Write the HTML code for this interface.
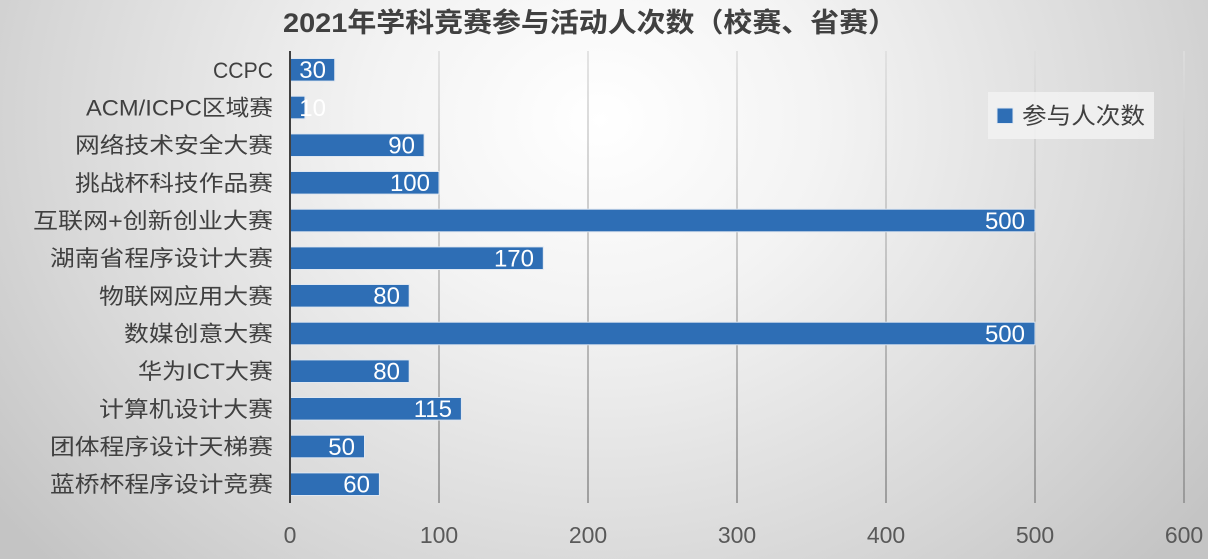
<!DOCTYPE html>
<html><head><meta charset="utf-8"><style>
html,body{margin:0;padding:0;}
body{width:1208px;height:559px;overflow:hidden;}
svg{display:block;}
text{font-family:"Liberation Sans","Noto Sans CJK SC",sans-serif;}
</style></head><body>
<svg width="1208" height="559" viewBox="0 0 1208 559" xmlns="http://www.w3.org/2000/svg">
<defs>
<radialGradient id="bg" cx="600" cy="120" r="760" gradientUnits="userSpaceOnUse" gradientTransform="translate(600 120) scale(1 0.85) translate(-600 -120)">
<stop offset="0" stop-color="#ffffff"/>
<stop offset="0.3" stop-color="#f3f3f3"/>
<stop offset="0.75" stop-color="#d6d6d6"/>
<stop offset="1" stop-color="#c4c4c4"/>
</radialGradient>
<linearGradient id="gl" x1="0" y1="51" x2="0" y2="503" gradientUnits="userSpaceOnUse">
<stop offset="0" stop-color="#dedede"/>
<stop offset="1" stop-color="#8e8e8e"/>
</linearGradient>
</defs>
<rect x="0" y="0" width="1208" height="559" fill="url(#bg)"/>

<text x="283" y="32" font-size="27" font-weight="bold" fill="#404040" textLength="614" lengthAdjust="spacingAndGlyphs">2021年学科竞赛参与活动人次数（校赛、省赛）</text>

<g stroke="url(#gl)" stroke-width="1.6">
<line x1="439" y1="51" x2="439" y2="503"/>
<line x1="588" y1="51" x2="588" y2="503"/>
<line x1="737" y1="51" x2="737" y2="503"/>
<line x1="886" y1="51" x2="886" y2="503"/>
<line x1="1035" y1="51" x2="1035" y2="503"/>
<line x1="1184" y1="51" x2="1184" y2="503"/>
</g>

<g fill="#2e6eb5" stroke="#dfe7f1" stroke-width="1">
<rect x="290" y="58.5" width="44.7" height="22.6"/>
<rect x="290" y="96.2" width="14.9" height="22.6"/>
<rect x="290" y="133.9" width="134.1" height="22.6"/>
<rect x="290" y="171.5" width="149" height="22.6"/>
<rect x="290" y="209.2" width="745" height="22.6"/>
<rect x="290" y="246.9" width="253.3" height="22.6"/>
<rect x="290" y="284.5" width="119.2" height="22.6"/>
<rect x="290" y="322.2" width="745" height="22.6"/>
<rect x="290" y="359.9" width="119.2" height="22.6"/>
<rect x="290" y="397.5" width="171.4" height="22.6"/>
<rect x="290" y="435.2" width="74.5" height="22.6"/>
<rect x="290" y="472.9" width="89.4" height="22.6"/>
</g>

<line x1="290" y1="51" x2="290" y2="503" stroke="#404040" stroke-width="2"/>

<g font-size="24" fill="#ffffff" text-anchor="end">
<text x="326" y="78.2">30</text>
<text x="326" y="115.9">10</text>
<text x="415" y="153.6">90</text>
<text x="430" y="191.2">100</text>
<text x="1025" y="228.9">500</text>
<text x="534" y="266.6">170</text>
<text x="400" y="304.2">80</text>
<text x="1025" y="341.9">500</text>
<text x="400" y="379.6">80</text>
<text x="452" y="417.2">115</text>
<text x="355" y="454.9">50</text>
<text x="370" y="492.6">60</text>
</g>

<g font-size="22" fill="#404040">
<text x="213" y="77.8" textLength="60" lengthAdjust="spacingAndGlyphs">CCPC</text>
<text x="86" y="115.5" textLength="187" lengthAdjust="spacingAndGlyphs">ACM/ICPC区域赛</text>
<text x="75" y="153.2" textLength="198" lengthAdjust="spacingAndGlyphs">网络技术安全大赛</text>
<text x="75" y="190.8" textLength="198" lengthAdjust="spacingAndGlyphs">挑战杯科技作品赛</text>
<text x="33" y="228.5" textLength="240" lengthAdjust="spacingAndGlyphs">互联网+创新创业大赛</text>
<text x="50" y="266.2" textLength="223" lengthAdjust="spacingAndGlyphs">湖南省程序设计大赛</text>
<text x="99" y="303.8" textLength="174" lengthAdjust="spacingAndGlyphs">物联网应用大赛</text>
<text x="124" y="341.5" textLength="149" lengthAdjust="spacingAndGlyphs">数媒创意大赛</text>
<text x="138" y="379.2" textLength="135" lengthAdjust="spacingAndGlyphs">华为ICT大赛</text>
<text x="99" y="416.8" textLength="174" lengthAdjust="spacingAndGlyphs">计算机设计大赛</text>
<text x="50" y="454.5" textLength="223" lengthAdjust="spacingAndGlyphs">团体程序设计天梯赛</text>
<text x="50" y="492.2" textLength="223" lengthAdjust="spacingAndGlyphs">蓝桥杯程序设计竞赛</text>
</g>

<g font-size="23" fill="#595959" text-anchor="middle">
<text x="290" y="543">0</text>
<text x="439" y="543">100</text>
<text x="588" y="543">200</text>
<text x="737" y="543">300</text>
<text x="886" y="543">400</text>
<text x="1035" y="543">500</text>
<text x="1184" y="543">600</text>
</g>

<rect x="988" y="92" width="166" height="47" fill="#f2f2f2" fill-opacity="0.85"/>
<rect x="997" y="108" width="16" height="15.5" fill="#2e6eb5" stroke="#dfe7f1" stroke-width="1"/>
<text x="1022" y="123.5" font-size="23" fill="#404040" textLength="123" lengthAdjust="spacingAndGlyphs">参与人次数</text>
</svg>
</body></html>
